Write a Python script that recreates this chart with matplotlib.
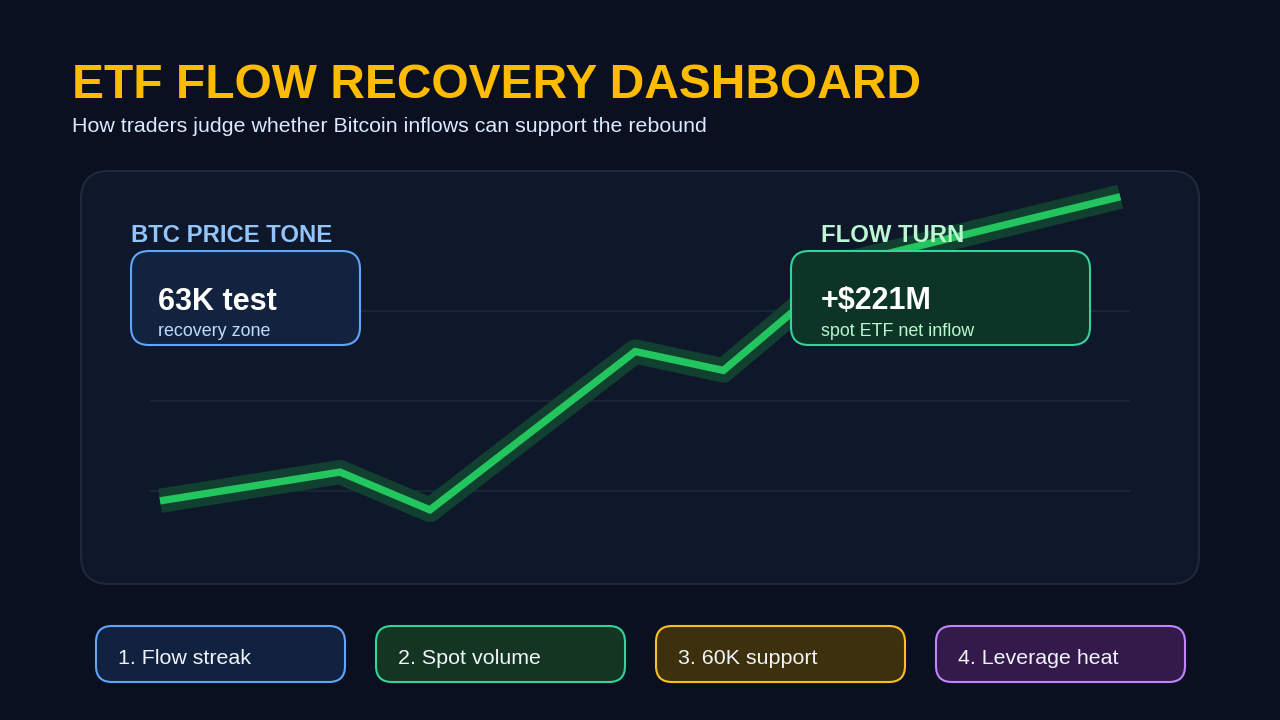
import matplotlib.pyplot as plt
from matplotlib.patches import FancyBboxPatch

plt.rcParams['font.family'] = ['Liberation Sans', 'DejaVu Sans']

# session position and flow index
session = [0, 2.0, 3.0, 5.28, 6.26, 7.68, 10.67]
flow = [-11, 21, -21, 155, 134, 254, 327]
grid_levels = [0, 100, 200]

title = "ETF FLOW RECOVERY DASHBOARD"
subtitle = "How traders judge whether Bitcoin inflows can support the rebound"
cards = [
    ("BTC PRICE TONE", "63K test", "recovery zone"),
    ("FLOW TURN", "+$221M", "spot ETF net inflow"),
]
pills = ["1. Flow streak", "2. Spot volume", "3. 60K support", "4. Leverage heat"]

BG = '#0a1020'
PANEL = '#0f172a'

fig = plt.figure(figsize=(12.8, 7.2), dpi=100, facecolor=BG)


def pixel_axes(z):
    a = fig.add_axes([0, 0, 1, 1], zorder=z)
    a.set_xlim(0, 1280)
    a.set_ylim(720, 0)
    a.axis('off')
    a.patch.set_alpha(0)
    return a


def rbox(a, x0, y0, x1, y1, r, fc, ec, lw=1.5):
    a.add_patch(FancyBboxPatch((x0, y0), x1 - x0, y1 - y0,
                               boxstyle=f"round,pad=0,rounding_size={r}",
                               fc=fc, ec=ec, lw=lw))


# back layer: panel
back = pixel_axes(0)
rbox(back, 81, 171, 1199, 584, 28, PANEL, '#1e293b', 1.5)

# data layer
ax = fig.add_axes([150 / 1280, 1 - 560 / 720, 980 / 1280, 380 / 720], zorder=1)
ax.patch.set_alpha(0)
ax.set_xlim(-0.111, 10.778)
ax.set_ylim(-76.7, 345.6)
for g in grid_levels:
    ax.axhline(g, color='#1e293b', lw=1.2)
ax.plot(session, flow, color='#124030', lw=17.5, solid_joinstyle='round',
        solid_capstyle='butt')
ax.plot(session, flow, color='#22c55e', lw=5.3, solid_joinstyle='miter',
        solid_capstyle='butt')
ax.axis('off')

# front layer: titles, cards, pills
top = pixel_axes(2)
top.text(72, 98.5, title, color='#ffbb00', fontsize=34.5, fontweight='bold', va='baseline')
top.text(72, 132, subtitle, color='#dbeafe', fontsize=15.4, va='baseline')

card_pos = [(131, 360), (791, 1090)]
head_x = [131, 821]
big_x = [158, 821]
card_head = ['#93c5fd', '#bbf7d0']
card_fill = ['#12233f', '#0c3527']
card_edge = ['#60a5fa', '#34d399']
card_sub = ['#bfdbfe', '#bbf7d0']
for i, ((x0, x1), (head, big, small)) in enumerate(zip(card_pos, cards)):
    top.text(head_x[i], 241.5, head, color=card_head[i], fontsize=17.2,
             fontweight='bold', va='baseline')
    rbox(top, x0, 251, x1, 345, 18, card_fill[i], card_edge[i], 1.5)
    top.text(big_x[i], 309.5, big, color='white', fontsize=22, fontweight='bold',
             va='baseline')
    top.text(big_x[i], 336.5, small, color=card_sub[i], fontsize=12.85, va='baseline')

pill_fill = ['#112240', '#133522', '#3d300c', '#341a4a']
pill_edge = ['#60a5fa', '#34d399', '#fbbf24', '#c084fc']
for i, (lab, fc, ec) in enumerate(zip(pills, pill_fill, pill_edge)):
    x0 = 96 + 280 * i
    rbox(top, x0, 626, x0 + 249, 682, 16, fc, ec, 1.5)
    top.text(x0 + 22, 663.5, lab, color='#f1f5f9', fontsize=15.4, va='baseline')

fig.savefig('out.png', dpi=100, facecolor=BG)
